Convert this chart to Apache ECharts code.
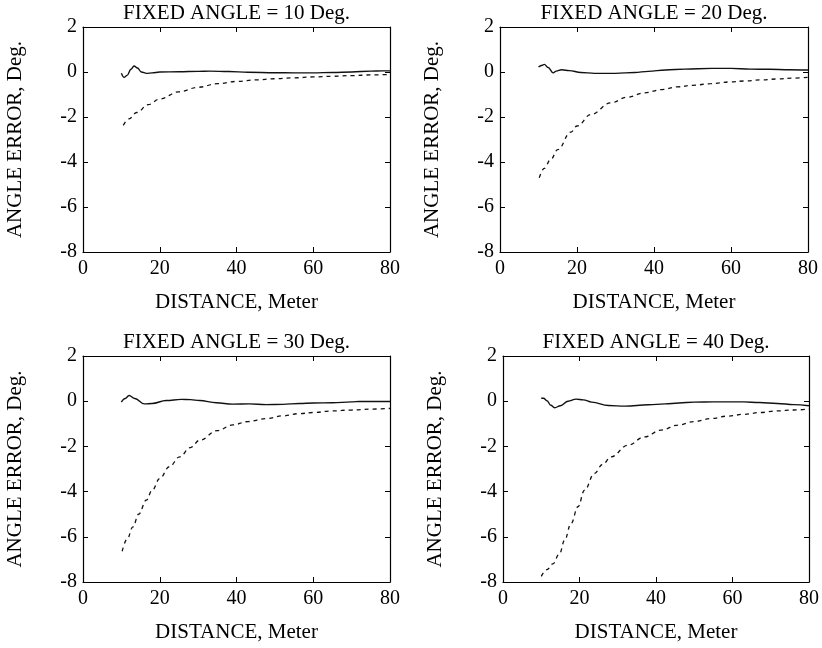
<!DOCTYPE html>
<html>
<head>
<meta charset="utf-8">
<script src="https://cdn.jsdelivr.net/npm/echarts@6/dist/echarts.min.js"></script>
<style>
  html, body { margin: 0; padding: 0; background: #fff; }
  #chart { width: 822px; height: 648px; }
</style>
</head>
<body>
<div id="chart"></div>
<script>
// === DATA ===
const panelTitles = ['FIXED ANGLE = 10 Deg.', 'FIXED ANGLE = 20 Deg.', 'FIXED ANGLE = 30 Deg.', 'FIXED ANGLE = 40 Deg.'];
const xAxisName = 'DISTANCE, Meter';
const yAxisName = 'ANGLE ERROR, Deg.';

// 10 deg
const solid10X = [10, 10.7, 11.5, 12.5, 13.3, 14.2, 15.2, 16.6, 18, 20, 25, 30, 33, 38, 43, 50, 55, 60, 65, 70, 75, 78, 80];
const solid10Y = [-0.06, -0.24, -0.15, 0.12, 0.27, 0.18, 0.0, -0.06, -0.04, 0, 0.01, 0.03, 0.04, 0.02, -0.01, -0.03, -0.04, -0.04, -0.02, 0.0, 0.04, 0.05, 0.05];
const dash10X = [10.5, 12, 14, 17, 20, 25, 30, 35, 40, 45, 50, 55, 60, 65, 70, 75, 80];
const dash10Y = [-2.37, -2.08, -1.8, -1.45, -1.2, -0.88, -0.68, -0.52, -0.42, -0.35, -0.3, -0.26, -0.22, -0.19, -0.16, -0.13, -0.11];

// 20 deg
const solid20X = [10, 11, 11.5, 12.5, 13.8, 14.6, 16, 18, 21, 24.6, 30, 35, 38.5, 43, 48, 55, 60, 65, 70, 75, 80];
const solid20Y = [0.22, 0.3, 0.34, 0.2, -0.04, 0.04, 0.1, 0.06, -0.02, -0.06, -0.06, -0.02, 0.03, 0.09, 0.13, 0.16, 0.16, 0.13, 0.12, 0.1, 0.09];
const dash20X = [10.2, 11.5, 13.2, 15, 18.4, 20, 23.6, 28.8, 33, 37.5, 42, 46.2, 50, 54.8, 60, 63.5, 68, 72.2, 76, 80];
const dash20Y = [-4.7, -4.28, -3.88, -3.45, -2.67, -2.4, -1.89, -1.37, -1.12, -0.93, -0.78, -0.66, -0.59, -0.52, -0.44, -0.4, -0.35, -0.31, -0.27, -0.24];

// 30 deg
const solid30X = [10, 11, 12, 13.5, 16, 18, 21.7, 25.6, 28, 30.4, 34.7, 39, 43.4, 47.7, 52, 56.4, 60, 65, 70, 72, 76, 80];
const solid30Y = [-0.04, 0.12, 0.25, 0.12, -0.12, -0.1, 0.03, 0.08, 0.07, 0.03, -0.07, -0.13, -0.12, -0.15, -0.14, -0.1, -0.08, -0.07, -0.03, -0.01, -0.01, -0.01];
const dash30X = [10.2, 11.5, 13, 14.5, 16.5, 18, 20, 22.5, 25.2, 28, 30.4, 35, 39, 43, 47.7, 52, 56.4, 60, 65, 70, 75, 80];
const dash30Y = [-6.64, -6.1, -5.56, -5.0, -4.38, -3.95, -3.42, -2.9, -2.46, -2.05, -1.73, -1.3, -1.05, -0.9, -0.77, -0.65, -0.55, -0.5, -0.43, -0.39, -0.35, -0.32];

// 40 deg
const solid40X = [10, 10.6, 11.5, 12.5, 13.5, 15, 17, 19.1, 21, 23.2, 27.6, 31.9, 38, 42.4, 46, 50, 55, 58.7, 63, 67, 71.7, 76, 80];
const solid40Y = [0.13, 0.13, 0.02, -0.18, -0.29, -0.2, 0.0, 0.09, 0.06, -0.04, -0.19, -0.22, -0.16, -0.12, -0.08, -0.04, -0.03, -0.03, -0.03, -0.06, -0.1, -0.15, -0.2];
const dash40X = [10, 11.5, 13, 14.8, 16.1, 17.8, 19.6, 21.3, 23.9, 26, 28.3, 32.6, 37, 41.3, 45.7, 50, 54.3, 58.7, 63, 67.3, 71.7, 76, 80];
const dash40Y = [-7.75, -7.45, -7.2, -6.74, -6.15, -5.41, -4.67, -3.94, -3.2, -2.8, -2.46, -1.95, -1.58, -1.28, -1.06, -0.9, -0.77, -0.66, -0.58, -0.5, -0.43, -0.39, -0.35];

const solidX = [solid10X, solid20X, solid30X, solid40X];
const solidY = [solid10Y, solid20Y, solid30Y, solid40Y];
const dashX = [dash10X, dash20X, dash30X, dash40X];
const dashY = [dash10Y, dash20Y, dash30Y, dash40Y];

// === LAYOUT ===
const font = '"Liberation Serif", "DejaVu Serif", serif';
const grids = [
    { left: 83, top: 27, width: 307, height: 225 },
    { left: 500, top: 27, width: 308, height: 225 },
    { left: 83, top: 356, width: 307, height: 226 },
    { left: 503, top: 356, width: 306, height: 226 }
];

const zip = (xs, ys) => xs.map((x, i) => [x, ys[i]]);
const tickStyle = { show: true, inside: true, length: 5, lineStyle: { color: '#000', width: 1 } };
const lineAxis = { show: true, onZero: false, lineStyle: { color: '#000', width: 1.2 } };

const titles = [], xAxes = [], yAxes = [], series = [];
grids.forEach((g, i) => {
    titles.push({
        text: panelTitles[i],
        left: g.left + g.width / 2,
        top: g.top - 24,
        textAlign: 'center',
        padding: 0,
        textStyle: { fontFamily: font, fontSize: 21, fontWeight: 'normal', color: '#000' }
    });
    // bottom + top x axes
    xAxes.push({
        gridIndex: i, type: 'value', min: 0, max: 80, interval: 20, position: 'bottom',
        axisLine: lineAxis, axisTick: tickStyle, splitLine: { show: false },
        axisLabel: { margin: 7, fontFamily: font, fontSize: 20, color: '#000' },
        name: xAxisName, nameLocation: 'middle', nameGap: 40,
        nameTextStyle: { fontFamily: font, fontSize: 21, color: '#000' }
    });
    xAxes.push({
        gridIndex: i, type: 'value', min: 0, max: 80, interval: 20, position: 'top',
        axisLine: lineAxis, axisTick: tickStyle, splitLine: { show: false },
        axisLabel: { show: false }
    });
    // left + right y axes
    yAxes.push({
        gridIndex: i, type: 'value', min: -8, max: 2, interval: 2, position: 'left',
        axisLine: lineAxis, axisTick: tickStyle, splitLine: { show: false },
        axisLabel: { margin: 6, fontFamily: font, fontSize: 20, color: '#000' },
        name: yAxisName, nameLocation: 'middle', nameGap: 57,
        nameTextStyle: { fontFamily: font, fontSize: 21, color: '#000' }
    });
    yAxes.push({
        gridIndex: i, type: 'value', min: -8, max: 2, interval: 2, position: 'right',
        axisLine: lineAxis, axisTick: tickStyle, splitLine: { show: false },
        axisLabel: { show: false }
    });
    series.push({
        type: 'line', xAxisIndex: 2 * i, yAxisIndex: 2 * i,
        data: zip(solidX[i], solidY[i]),
        showSymbol: false, smooth: 0.4, smoothMonotone: 'x',
        lineStyle: { color: '#111', width: 1.4, type: 'solid' }
    });
    series.push({
        type: 'line', xAxisIndex: 2 * i, yAxisIndex: 2 * i,
        data: zip(dashX[i], dashY[i]),
        showSymbol: false, smooth: 0.4, smoothMonotone: 'x',
        lineStyle: { color: '#111', width: 1.3, type: [4, 4] }
    });
});

const chart = echarts.init(document.getElementById('chart'));
chart.setOption({
    animation: false,
    backgroundColor: '#fff',
    title: titles,
    grid: grids,
    xAxis: xAxes,
    yAxis: yAxes,
    series: series
});
window.addEventListener('resize', () => chart.resize());
</script>
</body>
</html>
